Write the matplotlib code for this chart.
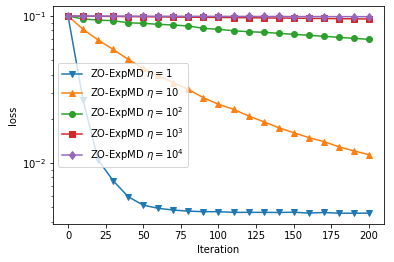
import matplotlib
matplotlib.use("Agg")
import matplotlib.pyplot as plt
import numpy as np

iters = np.arange(0, 201, 10)

loss_eta1 = [0.1, 0.0268, 0.0105, 0.00758, 0.0059, 0.00517, 0.00492, 0.00479,
             0.00471, 0.00467, 0.00467, 0.00462, 0.00462, 0.00462, 0.00461,
             0.00463, 0.00457, 0.00461, 0.00456, 0.00456, 0.00456]
loss_eta10 = [0.1, 0.0812, 0.0687, 0.0593, 0.0507, 0.0441, 0.0394, 0.0352,
              0.0317, 0.0278, 0.0251, 0.0232, 0.0209, 0.0191, 0.0174, 0.0161,
              0.0149, 0.0140, 0.0129, 0.0121, 0.0114]
loss_eta100 = [0.1, 0.0954, 0.0939, 0.0929, 0.0900, 0.0892, 0.0878, 0.0869,
               0.0855, 0.0825, 0.0812, 0.0794, 0.0782, 0.0775, 0.0763, 0.0751,
               0.0739, 0.0728, 0.0716, 0.0705, 0.0694]
loss_eta1000 = [0.1, 0.0998, 0.0996, 0.0993, 0.0991, 0.0989, 0.0987, 0.0984,
                0.0982, 0.0980, 0.0978, 0.0976, 0.0974, 0.0971, 0.0969, 0.0967,
                0.0964, 0.0962, 0.0959, 0.0957, 0.0955]
loss_eta10000 = [0.1, 0.0999, 0.0999, 0.0998, 0.0998, 0.0997, 0.0997, 0.0996,
                 0.0996, 0.0995, 0.0995, 0.0994, 0.0994, 0.0993, 0.0993, 0.0992,
                 0.0992, 0.0991, 0.0991, 0.0990, 0.0990]

series = [
    (loss_eta1, 'v', r'ZO-ExpMD $\eta=1$'),
    (loss_eta10, '^', r'ZO-ExpMD $\eta=10$'),
    (loss_eta100, 'o', r'ZO-ExpMD $\eta=10^2$'),
    (loss_eta1000, 's', r'ZO-ExpMD $\eta=10^3$'),
    (loss_eta10000, 'd', r'ZO-ExpMD $\eta=10^4$'),
]

fig = plt.figure(figsize=(394 / 72, 262 / 72), dpi=72)
ax = fig.add_axes([53 / 394, 1 - 224 / 262, (384 - 53) / 394, (224 - 6) / 262])

for vals, mk, lab in series:
    ax.plot(iters, vals, marker=mk, label=lab)

ax.set_yscale('log')
ax.set_ylim(0.00385, 0.117)
ax.set_xlabel('Iteration')
ax.set_ylabel('loss')
ax.legend(loc='center left')

fig.savefig('out.png', dpi=72)
